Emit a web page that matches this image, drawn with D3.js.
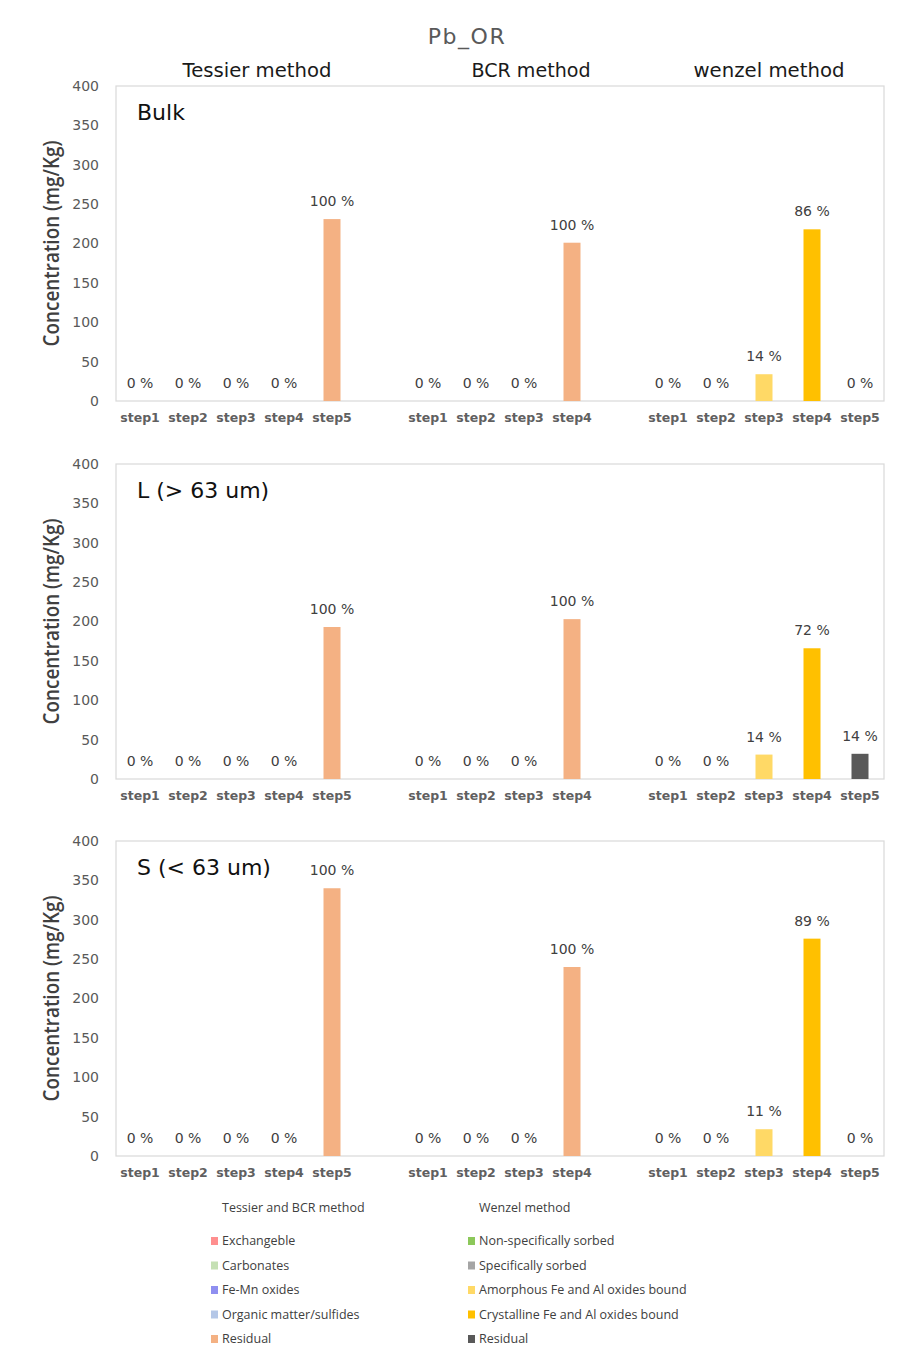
<!DOCTYPE html>
<html>
<head>
<meta charset="utf-8">
<script src="https://cdn.jsdelivr.net/npm/d3@7"></script>
<style>
  html, body { margin: 0; padding: 0; background: #ffffff; }
  svg { display: block; }
</style>
</head>
<body>
<svg id="chart" width="910" height="1358"></svg>
<script>
// ---------------- DATA ----------------
const chartTitle = "Pb_OR";
const methodTitles = ["Tessier method", "BCR method", "wenzel method"];
const panelLabels = ["Bulk", "L (> 63 um)", "S (< 63 um)"];
const tessierSteps = ["step1", "step2", "step3", "step4", "step5"];
const bcrSteps = ["step1", "step2", "step3", "step4"];
const wenzelSteps = ["step1", "step2", "step3", "step4", "step5"];

// concentrations (mg/Kg), one row per panel
const tessierValues = [
  [0, 0, 0, 0, 231],
  [0, 0, 0, 0, 193],
  [0, 0, 0, 0, 340]
];
const bcrValues = [
  [0, 0, 0, 201],
  [0, 0, 0, 203],
  [0, 0, 0, 240]
];
const wenzelValues = [
  [0, 0, 34, 218, 0],
  [0, 0, 31, 166, 32],
  [0, 0, 34, 276, 0]
];
// percentage labels shown above bars
const tessierPct = [
  [0, 0, 0, 0, 100],
  [0, 0, 0, 0, 100],
  [0, 0, 0, 0, 100]
];
const bcrPct = [
  [0, 0, 0, 100],
  [0, 0, 0, 100],
  [0, 0, 0, 100]
];
const wenzelPct = [
  [0, 0, 14, 86, 0],
  [0, 0, 14, 72, 14],
  [0, 0, 11, 89, 0]
];

const yTicks = [0, 50, 100, 150, 200, 250, 300, 350, 400];
const yMax = 400;
const yTitle = "Concentration (mg/Kg)";

// legend
const legendTitleTB = "Tessier and BCR method";
const legendTitleW = "Wenzel method";
const tbFractions = ["Exchangeble", "Carbonates", "Fe-Mn oxides", "Organic matter/sulfides", "Residual"];
const tbColors = ["#FF8F8F", "#C5E0B4", "#8F8FF0", "#B4C7E7", "#F4B183"];
const wFractions = ["Non-specifically sorbed", "Specifically sorbed", "Amorphous Fe and Al oxides bound", "Crystalline Fe and Al oxides bound", "Residual"];
const wColors = ["#8CC85A", "#A5A5A5", "#FFD966", "#FFC000", "#595959"];
// color index per BCR step (into tbColors)
const bcrColorIndex = [0, 1, 2, 4];

// ---------------- LAYOUT ----------------
const svg = d3.select("#chart");
const plotLeft = 116, plotRight = 884;
const panelTops = [86, 464, 841];
const plotH = 315;
const barW = 17;
const methodTitleX = [257, 531, 769];
const methodTitleW = [149, 119, 151];

const keys = [
  ...tessierSteps.map((s, i) => "T" + i), "gap1",
  ...bcrSteps.map((s, i) => "B" + i), "gap2",
  ...wenzelSteps.map((s, i) => "W" + i)
];
const x = d3.scaleBand().domain(keys).range([plotLeft, plotRight]).padding(0);

const fontSans = "'Open Sans', 'DejaVu Sans', sans-serif";
const fontDV = "'DejaVu Sans', sans-serif";

// title
svg.append("text")
  .attr("x", 467).attr("y", 44)
  .attr("text-anchor", "middle")
  .attr("font-family", fontDV).attr("font-size", 22)
  .attr("letter-spacing", 1.5)
  .attr("fill", "#595959")
  .text(chartTitle);

// method titles
methodTitles.forEach((t, i) => {
  svg.append("text")
    .attr("x", methodTitleX[i]).attr("y", 77)
    .attr("text-anchor", "middle")
    .attr("font-family", fontDV).attr("font-size", 19)
    .attr("textLength", methodTitleW[i]).attr("lengthAdjust", "spacingAndGlyphs")
    .attr("fill", "#1a1a1a")
    .text(t);
});

panelLabels.forEach((label, p) => {
  const top = panelTops[p];
  const bottom = top + plotH;
  const y = d3.scaleLinear().domain([0, yMax]).range([bottom, top]);
  const g = svg.append("g");

  // frame
  g.append("rect")
    .attr("x", plotLeft).attr("y", top)
    .attr("width", plotRight - plotLeft).attr("height", plotH)
    .attr("fill", "none").attr("stroke", "#D9D9D9").attr("stroke-width", 1.2);

  // y axis
  const yAxis = d3.axisLeft(y).tickValues(yTicks).tickSize(0).tickPadding(17);
  const ya = g.append("g").attr("transform", `translate(${plotLeft},0)`).call(yAxis);
  ya.select(".domain").remove();
  ya.selectAll("text")
    .attr("font-family", fontDV).attr("font-size", 14)
    .attr("fill", "#595959");

  // y title
  g.append("text")
    .attr("transform", `translate(59,${(top + bottom) / 2}) rotate(-90)`)
    .attr("text-anchor", "middle")
    .attr("font-family", fontSans).attr("font-size", 21).attr("font-weight", 600)
    .attr("textLength", 206).attr("lengthAdjust", "spacingAndGlyphs")
    .attr("fill", "#404040")
    .text(yTitle);

  // x axis
  const labelMap = {};
  tessierSteps.forEach((s, i) => labelMap["T" + i] = s);
  bcrSteps.forEach((s, i) => labelMap["B" + i] = s);
  wenzelSteps.forEach((s, i) => labelMap["W" + i] = s);
  const xAxis = d3.axisBottom(x).tickSize(0).tickPadding(12)
    .tickValues(keys.filter(k => !k.startsWith("gap")))
    .tickFormat(k => labelMap[k]);
  const xa = g.append("g").attr("transform", `translate(0,${bottom})`).call(xAxis);
  xa.select(".domain").remove();
  xa.selectAll("text")
    .attr("font-family", fontDV).attr("font-size", 12.5).attr("font-weight", 600)
    .attr("fill", "#606060");

  // data
  const data = [];
  tessierValues[p].forEach((v, i) => data.push({ key: "T" + i, v, pct: tessierPct[p][i], color: tbColors[i] }));
  bcrValues[p].forEach((v, i) => data.push({ key: "B" + i, v, pct: bcrPct[p][i], color: tbColors[bcrColorIndex[i]] }));
  wenzelValues[p].forEach((v, i) => data.push({ key: "W" + i, v, pct: wenzelPct[p][i], color: wColors[i] }));

  g.selectAll("rect.bar").data(data.filter(d => d.v > 0)).join("rect")
    .attr("class", "bar")
    .attr("x", d => x(d.key) + (x.bandwidth() - barW) / 2)
    .attr("width", barW)
    .attr("y", d => y(d.v))
    .attr("height", d => y(0) - y(d.v))
    .attr("fill", d => d.color);

  g.selectAll("text.pct").data(data).join("text")
    .attr("class", "pct")
    .attr("x", d => x(d.key) + x.bandwidth() / 2)
    .attr("y", d => y(d.v) - 13)
    .attr("text-anchor", "middle")
    .attr("font-family", fontDV).attr("font-size", 14)
    .attr("fill", "#404040")
    .text(d => d.pct + " %");

  // panel label
  g.append("text")
    .attr("x", 137).attr("y", top + 34)
    .attr("font-family", fontDV).attr("font-size", 22)
    .attr("fill", "#111")
    .text(label);
});

// legend
const legY0 = 1245, legStep = 24.5;
function legendColumn(title, names, colors, sqX, txtX) {
  svg.append("text")
    .attr("x", txtX).attr("y", 1212)
    .attr("font-family", fontSans).attr("font-size", 12.5)
    .attr("fill", "#404040").text(title);
  const items = svg.append("g").selectAll("g").data(names).join("g");
  items.append("rect")
    .attr("x", sqX).attr("y", (d, i) => legY0 + i * legStep - 8)
    .attr("width", 7).attr("height", 8)
    .attr("fill", (d, i) => colors[i]);
  items.append("text")
    .attr("x", txtX).attr("y", (d, i) => legY0 + i * legStep)
    .attr("font-family", fontSans).attr("font-size", 12.5)
    .attr("fill", "#404040").text(d => d);
}
legendColumn(legendTitleTB, tbFractions, tbColors, 211, 222);
legendColumn(legendTitleW, wFractions, wColors, 468, 479);
</script>
</body>
</html>
